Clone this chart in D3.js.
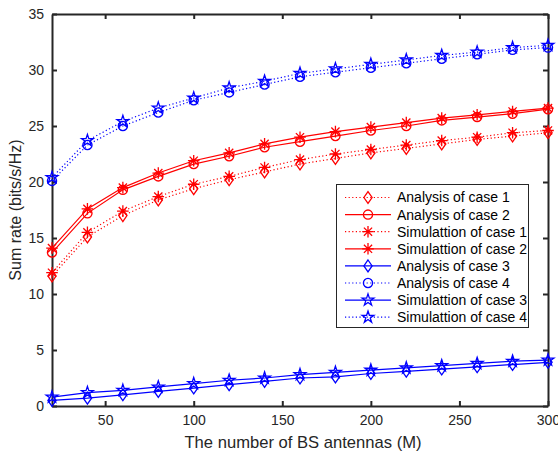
<!DOCTYPE html>
<html>
<head>
<meta charset="utf-8">
<script src="https://cdn.jsdelivr.net/npm/d3@7/dist/d3.min.js"></script>
<style>
  html, body { margin: 0; padding: 0; background: #fff; }
  svg { display: block; font-family: "Liberation Sans", Arial, sans-serif; }
</style>
</head>
<body>
<svg id="chart" width="558" height="453"></svg>
<script>
// Number of BS antennas
const antennas = [20, 40, 60, 80, 100, 120, 140, 160, 180, 200, 220, 240, 260, 280, 300];

// Sum rate (bits/s/Hz) per case
const analysisCase1 = [11.6, 15.1, 17.0, 18.4, 19.4, 20.2, 20.9, 21.6, 22.1, 22.6, 23.0, 23.4, 23.8, 24.1, 24.4];
const analysisCase2 = [13.7, 17.2, 19.3, 20.5, 21.6, 22.3, 23.1, 23.6, 24.1, 24.6, 25.0, 25.5, 25.8, 26.1, 26.5];
const simCase1      = [11.9, 15.5, 17.4, 18.7, 19.8, 20.5, 21.3, 22.0, 22.5, 22.9, 23.3, 23.7, 24.0, 24.4, 24.6];
const simCase2      = [14.1, 17.6, 19.5, 20.8, 21.9, 22.6, 23.4, 24.0, 24.5, 24.9, 25.3, 25.7, 26.0, 26.3, 26.6];
const analysisCase3 = [0.5, 0.7, 1.0, 1.3, 1.6, 1.9, 2.2, 2.5, 2.6, 2.9, 3.1, 3.3, 3.5, 3.7, 3.9];
const analysisCase4 = [20.1, 23.3, 25.0, 26.2, 27.3, 28.0, 28.7, 29.4, 29.8, 30.2, 30.6, 31.0, 31.4, 31.8, 32.0];
const simCase3      = [0.8, 1.2, 1.4, 1.7, 2.0, 2.3, 2.5, 2.8, 3.0, 3.2, 3.4, 3.6, 3.8, 4.0, 4.1];
const simCase4      = [20.4, 23.7, 25.4, 26.6, 27.5, 28.4, 29.0, 29.7, 30.1, 30.5, 30.9, 31.3, 31.6, 32.0, 32.2];

const xTicks = [50, 100, 150, 200, 250, 300];
const yTicks = [0, 5, 10, 15, 20, 25, 30, 35];

const xLabel = "The number of BS antennas (M)";
const yLabel = "Sum rate (bits/s/Hz)";

const RED = "#ff0000", BLUE = "#0000ff";

const series = [
  { name: "Analysis of case 1",    values: analysisCase1, color: RED,  dotted: true,  marker: "diamond" },
  { name: "Analysis of case 2",    values: analysisCase2, color: RED,  dotted: false, marker: "circle" },
  { name: "Simulattion of case 1", values: simCase1,      color: RED,  dotted: true,  marker: "asterisk" },
  { name: "Simulattion of case 2", values: simCase2,      color: RED,  dotted: false, marker: "asterisk" },
  { name: "Analysis of case 3",    values: analysisCase3, color: BLUE, dotted: false, marker: "diamond" },
  { name: "Analysis of case 4",    values: analysisCase4, color: BLUE, dotted: true,  marker: "circle" },
  { name: "Simulattion of case 3", values: simCase3,      color: BLUE, dotted: false, marker: "star" },
  { name: "Simulattion of case 4", values: simCase4,      color: BLUE, dotted: true,  marker: "star" }
];

const svg = d3.select("#chart");
const plotLeft = 52, plotRight = 548, plotTop = 14, plotBottom = 406;

const x = d3.scaleLinear().domain([20, 300]).range([plotLeft, plotRight]);
const y = d3.scaleLinear().domain([0, 35]).range([plotBottom, plotTop]);

const AXIS = "#262626";

// marker path generators, centred on the origin
function markerPath(type) {
  if (type === "circle") {
    const r = 4.6;
    return `M${r},0A${r},${r} 0 1,1 ${-r},0A${r},${r} 0 1,1 ${r},0Z`;
  }
  if (type === "diamond") {
    const w = 4.1, h = 5.9;
    return `M0,${-h}L${w},0L0,${h}L${-w},0Z`;
  }
  if (type === "asterisk") {
    const r = 5.8, d = r * 0.7071;
    return `M0,${-r}V${r}M${-r},0H${r}M${-d},${-d}L${d},${d}M${-d},${d}L${d},${-d}`;
  }
  if (type === "star") {
    const ro = 6.2, ri = ro * 0.382;
    let p = "";
    for (let i = 0; i < 10; i++) {
      const r = i % 2 === 0 ? ro : ri;
      const a = -Math.PI / 2 + i * Math.PI / 5;
      p += (i === 0 ? "M" : "L") + (r * Math.cos(a)).toFixed(2) + "," + (r * Math.sin(a)).toFixed(2);
    }
    return p + "Z";
  }
  return "";
}

const line = d3.line().x(d => x(d[0])).y(d => y(d[1]));

// axes box with inward ticks on all four sides
const gx = svg.append("g").attr("transform", `translate(0,${plotBottom})`)
  .call(d3.axisBottom(x).tickValues(xTicks).tickSizeInner(-5).tickSizeOuter(0).tickPadding(9));
const gxTop = svg.append("g").attr("transform", `translate(0,${plotTop})`)
  .call(d3.axisTop(x).tickValues(xTicks).tickSizeInner(-5).tickSizeOuter(0).tickFormat(""));
const gy = svg.append("g").attr("transform", `translate(${plotLeft},0)`)
  .call(d3.axisLeft(y).tickValues(yTicks).tickSizeInner(-5).tickSizeOuter(0).tickPadding(8));
const gyRight = svg.append("g").attr("transform", `translate(${plotRight},0)`)
  .call(d3.axisRight(y).tickValues(yTicks).tickSizeInner(-5).tickSizeOuter(0).tickFormat(""));

[gx, gxTop, gy, gyRight].forEach(g => {
  g.select(".domain").attr("stroke", AXIS).attr("stroke-width", 2);
  g.selectAll(".tick line").attr("stroke", AXIS).attr("stroke-width", 2);
  g.selectAll(".tick text").attr("fill", AXIS).style("font-size", "14px")
    .style("font-family", "'Liberation Sans', Arial, sans-serif");
});

// data lines and markers
const plot = svg.append("g");
series.forEach(s => {
  const pts = antennas.map((a, i) => [a, s.values[i]]);
  plot.append("path")
    .datum(pts)
    .attr("d", line)
    .attr("fill", "none")
    .attr("stroke", s.color)
    .attr("stroke-width", 1.2)
    .attr("stroke-dasharray", s.dotted ? "1.2,2.4" : null);
  plot.selectAll(null)
    .data(pts)
    .enter().append("path")
    .attr("transform", d => `translate(${x(d[0])},${y(d[1])})`)
    .attr("d", markerPath(s.marker))
    .attr("fill", "none")
    .attr("stroke", s.color)
    .attr("stroke-width", 1.3);
});

// axis titles
svg.append("text")
  .attr("x", (plotLeft + plotRight) / 2 + 3).attr("y", 448)
  .attr("text-anchor", "middle")
  .attr("fill", AXIS).style("font-size", "16.6px")
  .text(xLabel);
svg.append("text")
  .attr("transform", `translate(21,${(plotTop + plotBottom) / 2}) rotate(-90)`)
  .attr("text-anchor", "middle")
  .attr("fill", AXIS).style("font-size", "16px")
  .text(yLabel);

// legend
const lgX = 336, lgY = 184, lgW = 192, lgH = 143, rowH = 17.1, firstRow = 197.5;
const legend = svg.append("g");
legend.append("rect")
  .attr("x", lgX + 0.5).attr("y", lgY + 0.5).attr("width", lgW).attr("height", lgH)
  .attr("fill", "#fff").attr("stroke", AXIS).attr("stroke-width", 1);
series.forEach((s, i) => {
  const cy = firstRow + i * rowH;
  legend.append("line")
    .attr("x1", 345).attr("x2", 391).attr("y1", cy).attr("y2", cy)
    .attr("stroke", s.color).attr("stroke-width", 1.2)
    .attr("stroke-dasharray", s.dotted ? "1.2,2.4" : null);
  legend.append("path")
    .attr("transform", `translate(368,${cy})`)
    .attr("d", markerPath(s.marker))
    .attr("fill", "none").attr("stroke", s.color).attr("stroke-width", 1.3);
  legend.append("text")
    .attr("x", 397).attr("y", cy).attr("dy", "0.35em")
    .attr("fill", "#000").style("font-size", "14px")
    .text(s.name);
});
</script>
</body>
</html>
